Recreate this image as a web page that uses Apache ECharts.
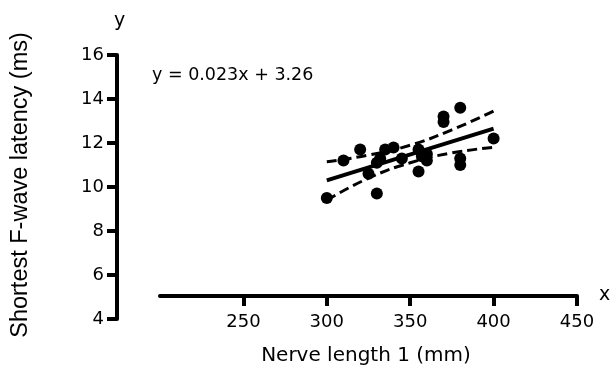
<!DOCTYPE html>
<html>
<head>
<meta charset="utf-8">
<script src="https://cdn.jsdelivr.net/npm/echarts@6/dist/echarts.min.js"></script>
<style>
  html, body { margin: 0; padding: 0; background: #fff; }
  #chart { width: 611px; height: 367px; }
</style>
</head>
<body>
<div id="chart"></div>
<script>
// nerve length (mm) vs shortest F-wave latency (ms)
const nerveLength = [300, 310, 320, 325, 330, 330, 332, 335, 340, 345, 355, 355, 357, 360, 360, 370, 370, 380, 380, 380, 400]
const latency = [9.5, 11.2, 11.7, 10.6, 9.7, 11.1, 11.3, 11.7, 11.8, 11.3, 11.7, 10.7, 11.4, 11.5, 11.2, 13.2, 12.95, 13.6, 11.3, 11.0, 12.2]

// fitted line and 95% band
const fitX = [300, 400]
const fitY = [10.3, 12.65]
const bandX = [300, 325, 350, 375, 400]
const bandUpper = [11.15, 11.45, 11.9, 12.6, 13.45]
const bandLower = [9.4, 10.4, 11.1, 11.55, 11.8]

const xTicks = [200, 250, 300, 350, 400, 450]
const yTicks = [4, 6, 8, 10, 12, 14, 16]

const FONT = 'DejaVu Sans'
const zip = (xs, ys) => xs.map((x, i) => [x, ys[i]])

const chart = echarts.init(document.getElementById('chart'), null, { renderer: 'canvas' })

// fresh objects per axis (sharing one object lost the x ticks)
const lineStyle = () => ({ show: true, lineStyle: { color: '#000', width: 4 } })
const tickStyle = () => ({ show: true, length: 10, lineStyle: { color: '#000', width: 4 } })
const hidden = { show: false }

const xRange = { type: 'value', min: xTicks[0], max: xTicks[xTicks.length - 1], interval: 50 }
const yRange = { type: 'value', min: yTicks[0], max: yTicks[yTicks.length - 1], interval: 2 }

const dashed = { color: '#000', width: 3, type: [10, 5] }

chart.setOption({
  animation: false,
  // grid 0 holds the data and the y axis, grid 1 only carries the raised x axis
  grid: [
    { left: 160, right: 34, top: 55, bottom: 48 },
    { left: 160, right: 34, top: 55, bottom: 71 },
  ],
  xAxis: [
    { ...xRange, gridIndex: 0, show: false },
    {
      ...xRange,
      gridIndex: 1,
      axisLine: lineStyle(),
      axisTick: tickStyle(),
      splitLine: hidden,
      axisLabel: { showMinLabel: false, margin: 17, fontFamily: FONT, fontSize: 18, color: '#000' },
    },
  ],
  yAxis: [
    {
      ...yRange,
      gridIndex: 0,
      offset: 43,
      axisLine: lineStyle(),
      axisTick: tickStyle(),
      splitLine: hidden,
      axisLabel: { margin: 13, fontFamily: FONT, fontSize: 18, color: '#000' },
    },
    { ...yRange, gridIndex: 1, show: false, splitLine: hidden },
  ],
  graphic: [
    { type: 'text', left: 114, top: 12, style: { text: 'y', font: '19px "DejaVu Sans"', fill: '#000' } },
    { type: 'text', left: 599, top: 286, style: { text: 'x', font: '19px "DejaVu Sans"', fill: '#000' } },
    { type: 'text', left: 152, top: 66, style: { text: 'y = 0.023x + 3.26', font: '17.5px "DejaVu Sans"', fill: '#000' } },
    {
      type: 'text', x: 366, y: 356,
      style: { text: 'Nerve length 1 (mm)', font: '20px "DejaVu Sans"', fill: '#000', align: 'center', verticalAlign: 'middle' },
    },
    {
      type: 'text', x: 21, y: 185, rotation: Math.PI / 2,
      style: { text: 'Shortest F-wave latency (ms)', font: '23.5px "Liberation Sans"', fill: '#000', align: 'center', verticalAlign: 'middle' },
    },
  ],
  series: [
    {
      type: 'line', data: zip(fitX, fitY), symbol: 'none',
      lineStyle: { color: '#000', width: 4 }, z: 3,
    },
    {
      type: 'line', data: zip(bandX, bandUpper), symbol: 'none', smooth: true,
      lineStyle: dashed, z: 3,
    },
    {
      type: 'line', data: zip(bandX, bandLower), symbol: 'none', smooth: true,
      lineStyle: dashed, z: 3,
    },
    {
      type: 'scatter', data: zip(nerveLength, latency), symbolSize: 12,
      itemStyle: { color: '#000', opacity: 1 }, z: 4,
    },
  ],
})
</script>
</body>
</html>
